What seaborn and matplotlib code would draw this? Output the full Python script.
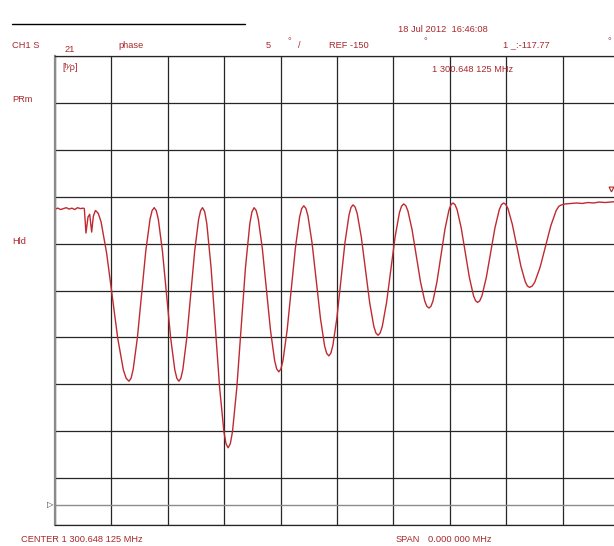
import matplotlib
matplotlib.use("Agg")
import matplotlib.pyplot as plt
from matplotlib.lines import Line2D
import seaborn as sns
import pandas as pd

# CH1 S21 phase trace, CW time sweep (x = sweep point, 20 points per division)
sweep_pt = [0, 1, 2, 3, 4, 5, 6, 7, 8, 9, 10, 10.4,
            10.98, 11.7, 12.3, 13.0, 13.6, 14.35,
            16.33, 18.31, 20.29, 22.26, 24.24, 26.22,
            27.71, 29.21, 30.70, 32.19, 33.69, 35.18,
            36.64, 38.10, 39.56, 41.01, 42.47, 43.93,
            45.33, 46.73, 48.13, 49.53, 50.93, 52.33,
            53.84, 55.35, 56.87, 58.38, 59.89, 61.40,
            62.94, 64.47, 66.01, 67.54, 69.08, 70.61,
            72.07, 73.53, 74.99, 76.44, 77.90, 79.36,
            80.84, 82.31, 83.79, 85.27, 86.74, 88.22,
            89.70, 91.17, 92.65, 94.13, 95.60, 97.08,
            98.52, 99.95, 101.39, 102.82, 104.26, 105.69,
            107.17, 108.64, 110.12, 111.59, 113.07, 114.54,
            116.06, 117.58, 119.10, 120.61, 122.13, 123.65,
            125.14, 126.64, 128.13, 129.62, 131.12, 132.61,
            134.03, 135.45, 136.87, 138.28, 139.70, 141.12,
            142.58, 144.04, 145.50, 146.95, 148.41, 149.87,
            151.41, 152.94, 154.48, 156.01, 157.55, 159.08,
            160.62, 162.15, 163.69, 165.22, 166.76, 168.29,
            170.18, 172.07, 173.96, 175.85, 177.74, 179.63,
            181, 183, 185, 187, 189, 191, 193, 195, 197, 199, 201]
phase_deg = [-118.45, -118.35, -118.5, -118.4, -118.3, -118.45, -118.35, -118.5, -118.3, -118.4, -118.35, -118.4,
             -121.0, -119.3, -119.0, -120.9, -119.2, -118.6,
             -119.8, -123.15, -127.7, -132.25, -135.6, -136.8,
             -135.56, -132.18, -127.55, -122.93, -119.54, -118.3,
             -119.54, -122.93, -127.55, -132.18, -135.56, -136.8,
             -135.56, -132.18, -127.55, -122.93, -119.54, -118.3,
             -120.02, -124.7, -131.1, -137.5, -142.18, -143.9,
             -142.18, -137.5, -131.1, -124.7, -120.02, -118.3,
             -119.47, -122.68, -127.05, -131.43, -134.63, -135.8,
             -134.61, -131.38, -126.95, -122.53, -119.29, -118.1,
             -119.17, -122.1, -126.1, -130.1, -133.03, -134.1,
             -133.02, -130.08, -126.05, -122.03, -119.08, -118.0,
             -118.93, -121.48, -124.95, -128.43, -130.97, -131.9,
             -130.96, -128.4, -124.9, -121.4, -118.84, -117.9,
             -118.64, -120.68, -123.45, -126.23, -128.26, -129.0,
             -128.25, -126.2, -123.4, -120.6, -118.55, -117.8,
             -118.51, -120.45, -123.1, -125.75, -127.69, -128.4,
             -127.69, -125.75, -123.1, -120.45, -118.51, -117.8,
             -118.4, -120.05, -122.3, -124.55, -126.2, -126.8,
             -126.21, -124.6, -122.4, -120.2, -118.59, -118.0,
             -117.9, -117.85, -117.8, -117.85, -117.75, -117.8, -117.7, -117.75, -117.7, -117.65, -117.7]

# extra readings right next to each peak / trough so the tips stay rounded
tip_pt = [15.34, 25.23, 26.97, 34.43, 35.91, 43.20, 44.63, 51.63, 53.09, 60.64,
          62.17, 69.84, 71.34, 78.63, 80.10, 87.48, 88.96, 96.34, 97.80, 104.97,
          106.43, 113.80, 115.30, 122.89, 124.40, 131.86, 133.32, 140.41, 141.85, 149.14,
          150.64, 158.31, 159.85, 167.52, 169.24, 178.68]
tip_deg = [-118.91, -136.49, -136.49, -118.61, -118.61, -136.49, -136.49, -118.61, -118.74, -143.46,
           -143.46, -118.74, -118.6, -135.5, -135.5, -118.4, -118.37, -133.83, -133.83, -118.27,
           -118.24, -131.66, -131.66, -118.14, -118.09, -128.81, -128.81, -117.99, -117.98, -128.22,
           -128.22, -117.98, -117.95, -126.65, -126.65, -118.15]

ref_value = -150
scale_per_div = 5
marker_pt = [197.3]
marker_deg = [-117.77]

RED = "#a8282c"
TRACE = "#bf2a30"

sns.set_style("white")
plt.rcParams["font.family"] = ["Liberation Sans", "DejaVu Sans"]

W, H = 614, 546
fig = plt.figure(figsize=(W / 100, H / 100), dpi=100)
fig.patch.set_facecolor("white")


def fx(x):
    return x / W


def fy(y):
    return 1 - y / H


# plot area: left 55px, top 56px, bottom 525px, runs past right edge
ax = fig.add_axes([fx(55), fy(525), (619 - 55) / W, (525 - 56) / H])

df = pd.concat([pd.DataFrame({"pt": sweep_pt, "phase": phase_deg}),
                pd.DataFrame({"pt": tip_pt, "phase": tip_deg})]).sort_values("pt")
sns.lineplot(data=df, x="pt", y="phase", ax=ax, color=TRACE, linewidth=1.0,
             estimator=None, sort=False)

y_bot = ref_value - 2.13
ax.set_xlim(0, 200)
ax.set_ylim(y_bot, y_bot + 10 * scale_per_div)
ax.set_xticks([20 * i for i in range(11)])
ax.set_yticks([y_bot + scale_per_div * i for i in range(11)])
ax.grid(True, color="#262626", linewidth=0.9)
ax.set_axisbelow(True)
ax.tick_params(length=0, labelleft=False, labelbottom=False)
ax.set_xlabel("")
ax.set_ylabel("")
ax.axhline(ref_value, color="#8c8c8c", linewidth=1.0, zorder=1)
for side in ["top", "bottom", "right"]:
    ax.spines[side].set_color("#262626")
    ax.spines[side].set_linewidth(0.9)
ax.spines["left"].set_color("#8a8a8a")
ax.spines["left"].set_linewidth(1.6)

# marker 1
ax.plot(marker_pt, [marker_deg[0] + 1.5], marker="v", markersize=3.5,
        markerfacecolor="none", markeredgecolor=RED, markeredgewidth=0.8,
        linestyle="none", clip_on=False)

fig.add_artist(Line2D([fx(12), fx(245)], [fy(24), fy(24)], color="black", linewidth=1.0))

fs = 6.7
texts = [
    (398, 29, "18 Jul 2012  16:46:08"),
    (12, 45, "CH1 S"),
    (65, 49, "21"),
    (118, 45, "phase"),
    (266, 45, "5"),
    (287, 42, "°"),
    (298, 45, "/"),
    (329, 45, "REF -150"),
    (424, 42, "°"),
    (503, 45, "1 _:-117.77"),
    (607, 42, "°"),
    (62, 68, "[ʰ⁄ρ]"),
    (432, 70, "1 300.648 125 MHz"),
    (12, 100, "PRm"),
    (12, 241, "Hld"),
    (21, 539, "CENTER 1 300.648 125 MHz"),
    (396, 539, "SPAN"),
    (428, 539, "0.000 000 MHz"),
]
for x, y, s in texts:
    fig.text(fx(x), fy(y), s, color=RED, fontsize=fs, ha="left", va="center")

fig.text(fx(47), fy(505), "▷", color="#333333", fontsize=6, ha="left", va="center",
         family=["DejaVu Sans"])

fig.savefig("out.png", dpi=100, facecolor="white")
